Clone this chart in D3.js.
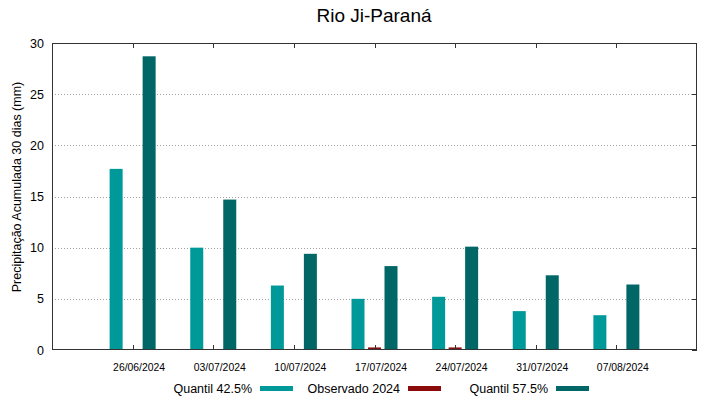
<!DOCTYPE html>
<html><head><meta charset="utf-8">
<script src="https://cdn.jsdelivr.net/npm/d3@7"></script>
<style>body{margin:0;background:#fff}svg{display:block;font-family:"Liberation Sans",Arial,sans-serif}</style>
</head><body>
<svg id="c" width="719" height="399"></svg>
<script>
const dates = ["2024-06-26","2024-07-03","2024-07-10","2024-07-17","2024-07-24","2024-07-31","2024-08-07"];
const q425 = [17.7, 10.0, 6.3, 5.0, 5.2, 3.8, 3.4];
const obs2024 = [0.1, 0.0, 0.1, 0.25, 0.25, 0, 0];
const q575 = [28.7, 14.7, 9.4, 8.2, 10.1, 7.3, 6.4];
const yTicks = [0, 5, 10, 15, 20, 25, 30];
const seriesNames = ["Quantil 42.5%", "Observado 2024", "Quantil 57.5%"];
const colors = ["#009999", "#8b0a0a", "#006766"];

const parse = d3.timeParse("%Y-%m-%d");
const fmt = d3.timeFormat("%d/%m/%Y");
const svg = d3.select("#c");
const L = 52, R = 697, T = 43, B = 350;
const x = d3.scaleTime().domain([parse("2024-06-19"), parse("2024-08-14")]).range([L, R]);
const y = d3.scaleLinear().domain([0, 30]).range([B, T]);

// grid
svg.append("g").selectAll("line").data(yTicks.filter(v => v > 0 && v < 30)).join("line")
  .attr("x1", L).attr("x2", R).attr("y1", d => Math.round(y(d)) + 0.5).attr("y2", d => Math.round(y(d)) + 0.5)
  .attr("stroke", "#a0a0a0").attr("stroke-width", 1).attr("stroke-dasharray", "1,2");

// bars
const series = [q425, obs2024, q575];
const offsets = [-16.5, 0, 16.5];
const bw = 13;
series.forEach((vals, si) => {
  svg.append("g").selectAll("rect").data(vals.map((v, i) => ({d: parse(dates[i]), v})).filter(o => o.v > 0)).join("rect")
    .attr("x", o => x(o.d) + offsets[si] - bw / 2)
    .attr("width", bw)
    .attr("y", o => y(o.v))
    .attr("height", o => B - y(o.v))
    .attr("fill", colors[si]);
});

// frame
svg.append("rect").attr("x", L + 0.5).attr("y", T + 0.5).attr("width", R - L - 1).attr("height", B - T - 1)
  .attr("fill", "none").attr("stroke", "#333").attr("stroke-width", 1);

// x ticks inward top and bottom
const xt = dates.map(parse);
svg.append("g").selectAll("line").data(xt).join("line")
  .attr("x1", d => Math.round(x(d)) + 0.5).attr("x2", d => Math.round(x(d)) + 0.5)
  .attr("y1", B).attr("y2", B - 5).attr("stroke", "#333");
svg.append("g").selectAll("line").data(xt).join("line")
  .attr("x1", d => Math.round(x(d)) + 0.5).attr("x2", d => Math.round(x(d)) + 0.5)
  .attr("y1", T).attr("y2", T + 5).attr("stroke", "#333");
// right y ticks inward
svg.append("g").selectAll("line").data(yTicks).join("line")
  .attr("x1", R).attr("x2", R - 5).attr("y1", d => Math.round(y(d)) + 0.5).attr("y2", d => Math.round(y(d)) + 0.5)
  .attr("stroke", "#333");

// x labels
svg.append("g").selectAll("text").data(xt).join("text")
  .attr("x", d => x(d) + 6.5).attr("y", 371).attr("text-anchor", "middle")
  .attr("font-size", "10.4px").attr("fill", "#000").text(d => fmt(d));

// y labels
svg.append("g").selectAll("text").data(yTicks).join("text")
  .attr("x", 44).attr("y", d => y(d) + 4.5).attr("text-anchor", "end")
  .attr("font-size", "12.5px").attr("fill", "#000").text(d => d);

// y title
svg.append("text").attr("transform", "translate(21,187) rotate(-90)").attr("text-anchor", "middle")
  .attr("font-size", "12.5px").text("Precipitação Acumulada 30 dias (mm)");

// title
svg.append("text").attr("x", 374).attr("y", 22).attr("text-anchor", "middle")
  .attr("font-size", "19px").text("Rio Ji-Paraná");

// legend
const legX = [252, 400, 548];
seriesNames.forEach((n, i) => {
  svg.append("text").attr("x", legX[i]).attr("y", 393).attr("text-anchor", "end")
    .attr("font-size", "12.5px").text(n);
  svg.append("rect").attr("x", legX[i] + 8).attr("y", 386).attr("width", 33).attr("height", 5).attr("fill", colors[i]);
});
</script>
</body></html>
